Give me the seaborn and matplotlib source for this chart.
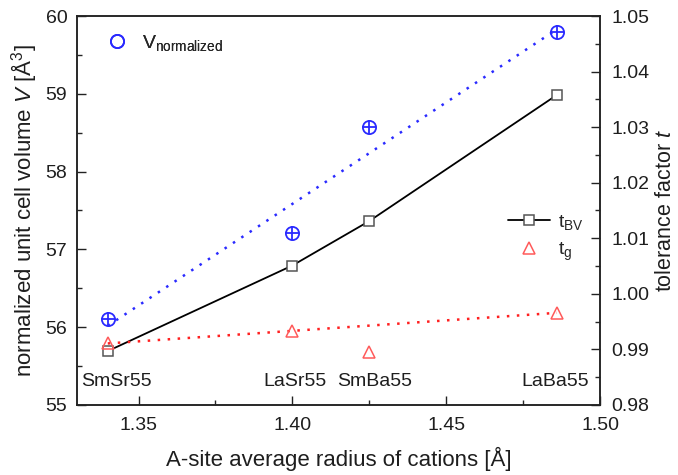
import matplotlib
matplotlib.use("Agg")
import matplotlib.pyplot as plt
from matplotlib.lines import Line2D
from matplotlib.ticker import MultipleLocator, FormatStrFormatter
import seaborn as sns
import pandas as pd

# ---- data ----
samples = ["SmSr55", "LaSr55", "SmBa55", "LaBa55"]
radius = [1.340, 1.400, 1.425, 1.486]
v_norm = [56.10, 57.21, 58.57, 59.79]
t_bv = [0.9897, 1.0051, 1.0131, 1.0358]
t_g = [0.9911, 0.9933, 0.9896, 0.9966]
tg_fit_samples = ["SmSr55", "LaSr55", "LaBa55"]

df = pd.DataFrame({"sample": samples, "r": radius, "V": v_norm, "tbv": t_bv, "tg": t_g})
df_tg = df[df["sample"].isin(tg_fit_samples)]

sns.set_theme(style="ticks")
plt.rcParams["font.family"] = ["Liberation Sans", "DejaVu Sans"]
plt.rcParams["mathtext.fontset"] = "custom"
plt.rcParams["mathtext.rm"] = "Liberation Sans"
plt.rcParams["mathtext.it"] = "Liberation Sans:italic"

BLUE = "#2a2aff"
RED = "#ff2020"
TRI = "#ff5a5a"
TXT = "#1e1e1e"

fig = plt.figure(figsize=(6.78, 4.75), dpi=100)
ax = fig.add_axes([0.1136, 0.1474, 0.7714, 0.8189])
ax2 = ax.twinx()

# V normalized: linear fit + markers
sns.regplot(data=df, x="r", y="V", ax=ax, scatter=False, ci=None, truncate=True,
            line_kws=dict(color=BLUE, ls=(0, (1, 3)), lw=1.8))
ax.plot(df["r"], df["V"], ls="none", marker="o", ms=9.5, mfc="none", mec=BLUE, mew=1.3)
ax.plot(df["r"], df["V"], ls="none", marker="+", ms=9.5, mec=BLUE, mew=1.3)

# t_BV
sns.lineplot(data=df, x="r", y="tbv", ax=ax2, color="black", lw=1.3, sort=True)
ax2.plot(df["r"], df["tbv"], ls="none", marker="s", ms=7, mfc="white", mec="#555555", mew=1.1)

# t_g: fit + markers
sns.regplot(data=df_tg, x="r", y="tg", ax=ax2, scatter=False, ci=None, truncate=True,
            line_kws=dict(color=RED, ls=(0, (1, 3)), lw=1.8))
ax2.plot(df["r"], df["tg"], ls="none", marker="^", ms=8.5, mfc="none", mec=TRI, mew=1.1)

# sample labels
label_shift_pt = [6, 2, 4, -1]
for s, r, dx in zip(samples, radius, label_shift_pt):
    ax.annotate(s, (r, 55.30), xytext=(dx, 0), textcoords="offset points",
                ha="center", va="center", fontsize=14, color=TXT)

# axes setup
ax.set_xlim(1.33, 1.50)
ax.set_ylim(55, 60)
ax2.set_ylim(0.98, 1.05)
ax.xaxis.set_major_locator(MultipleLocator(0.05))
ax.xaxis.set_minor_locator(MultipleLocator(0.025))
ax.xaxis.set_major_formatter(FormatStrFormatter("%.2f"))
ax.yaxis.set_major_locator(MultipleLocator(1))
ax.yaxis.set_minor_locator(MultipleLocator(0.5))
ax2.yaxis.set_major_locator(MultipleLocator(0.01))
ax2.yaxis.set_minor_locator(MultipleLocator(0.005))
ax2.yaxis.set_major_formatter(FormatStrFormatter("%.2f"))

for a in (ax, ax2):
    a.tick_params(which="major", direction="in", length=6.5, width=1.0, labelsize=14,
                  colors="#222222", labelcolor=TXT)
    a.tick_params(which="minor", direction="in", length=3.5, width=1.0)
    for sp in a.spines.values():
        sp.set_linewidth(1.1)
        sp.set_color("#222222")
ax.tick_params(axis="x", which="both", top=False, pad=9)
ax.tick_params(axis="y", which="both", right=False, pad=7)
ax2.tick_params(axis="y", which="both", pad=8)

ax.set_xlabel("A-site average radius of cations [Å]", fontsize=16, color=TXT, labelpad=9)
ax.set_ylabel(r"normalized unit cell volume $\mathit{V}$ [Å$^3$]", fontsize=16, color=TXT, labelpad=5)
ax2.set_ylabel(r"tolerance factor $\mathit{t}$", fontsize=15.5, color=TXT, labelpad=4)

# legends
h_v = Line2D([], [], ls="none", marker="o", ms=9.5, mfc="none", mec=BLUE, mew=1.3)
leg1 = ax.legend([h_v], [r"V$_{\mathregular{normalized}}$"], loc="center left",
                 bbox_to_anchor=(0.02, 0.93), frameon=False, fontsize=14,
                 handlelength=1.2, handletextpad=0.7)
ax.add_artist(leg1)
h_bv = Line2D([], [], color="black", lw=1.3, marker="s", ms=7, mfc="white", mec="#555555", mew=1.1)
h_g = Line2D([], [], ls="none", marker="^", ms=8.5, mfc="none", mec=TRI, mew=1.1)
ax2.legend([h_bv, h_g], [r"t$_{\mathregular{BV}}$", r"t$_{\mathregular{g}}$"], loc="center left",
           bbox_to_anchor=(0.79, 0.43), frameon=False, fontsize=14,
           handlelength=2.2, handletextpad=0.4, labelspacing=0.45)

fig.savefig("out.png", dpi=100)
